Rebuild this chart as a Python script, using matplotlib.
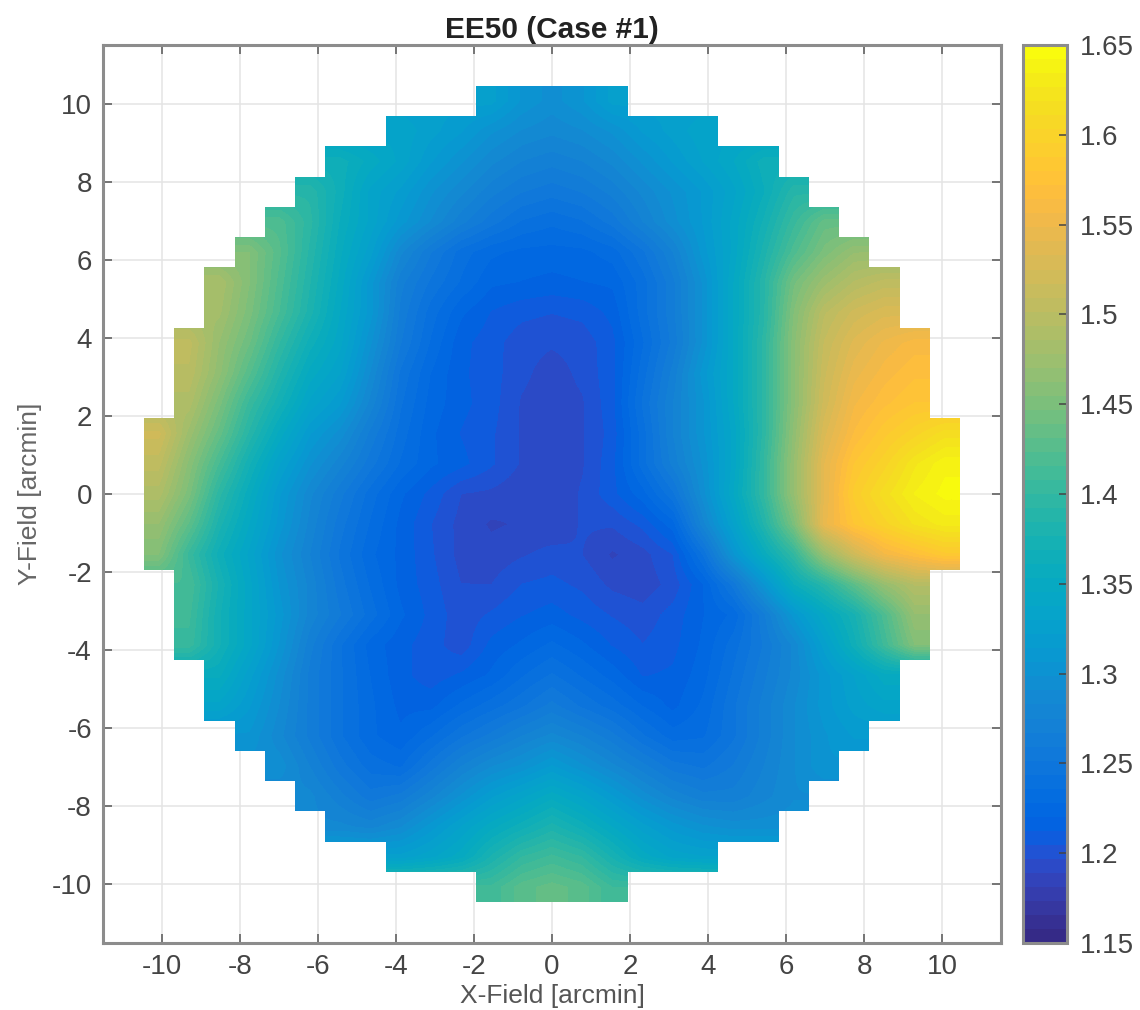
import numpy as np
import matplotlib
matplotlib.use('Agg')
import matplotlib.pyplot as plt
from matplotlib.colors import ListedColormap
from matplotlib.patches import Polygon

plt.rcParams['font.family'] = ['Liberation Sans', 'DejaVu Sans']
plt.rcParams['axes.unicode_minus'] = False

# MATLAB parula (R2014b, 64 levels)
parula = [
    (.2081, .1663, .5292), (.2116, .1898, .5777), (.2123, .2138, .6270), (.2081, .2386, .6771),
    (.1959, .2645, .7279), (.1707, .2919, .7792), (.1253, .3242, .8303), (.0591, .3598, .8683),
    (.0117, .3875, .8820), (.0060, .4086, .8828), (.0165, .4266, .8786), (.0329, .4430, .8720),
    (.0498, .4586, .8641), (.0629, .4737, .8554), (.0723, .4887, .8467), (.0779, .5040, .8384),
    (.0793, .5200, .8312), (.0749, .5375, .8263), (.0641, .5570, .8240), (.0488, .5772, .8228),
    (.0343, .5966, .8199), (.0265, .6137, .8135), (.0239, .6287, .8038), (.0231, .6418, .7913),
    (.0228, .6535, .7768), (.0267, .6642, .7607), (.0384, .6743, .7436), (.0590, .6838, .7254),
    (.0843, .6928, .7062), (.1133, .7015, .6859), (.1453, .7098, .6646), (.1801, .7177, .6424),
    (.2178, .7250, .6193), (.2586, .7317, .5954), (.3022, .7376, .5712), (.3482, .7424, .5473),
    (.3953, .7459, .5244), (.4420, .7481, .5033), (.4871, .7491, .4840), (.5300, .7491, .4661),
    (.5709, .7485, .4494), (.6099, .7473, .4337), (.6473, .7456, .4188), (.6834, .7435, .4044),
    (.7184, .7411, .3905), (.7525, .7384, .3768), (.7858, .7356, .3633), (.8185, .7327, .3498),
    (.8507, .7299, .3360), (.8824, .7274, .3217), (.9139, .7258, .3063), (.9450, .7261, .2886),
    (.9739, .7314, .2666), (.9938, .7455, .2403), (.9990, .7653, .2164), (.9955, .7861, .1967),
    (.9880, .8066, .1794), (.9789, .8271, .1633), (.9697, .8481, .1475), (.9626, .8705, .1309),
    (.9589, .8949, .1132), (.9598, .9218, .0948), (.9661, .9514, .0755), (.9763, .9831, .0538),
]

field_step = 0.774  # arcmin per sample

# EE50 x 1000, one row per y sample from top to bottom, only the samples inside the field
ee50_rows = [
    [1325, 1305, 1295, 1305, 1325],
    [1335, 1325, 1315, 1300, 1290, 1285, 1290, 1300, 1315, 1325, 1335],
    [1365, 1350, 1335, 1315, 1300, 1285, 1275, 1270, 1275, 1285, 1300, 1315, 1330, 1345, 1365],
    [1390, 1365, 1335, 1320, 1300, 1285, 1270, 1260, 1255, 1260, 1270, 1285, 1300, 1315, 1335, 1360, 1390],
    [1420, 1395, 1360, 1335, 1310, 1290, 1270, 1255, 1243, 1238, 1243, 1255, 1275, 1295, 1315, 1340, 1370, 1405, 1435],
    [1455, 1425, 1390, 1355, 1325, 1285, 1260, 1240, 1230, 1226, 1225, 1226, 1232, 1250, 1275, 1310, 1340, 1380, 1420, 1450, 1470],
    [1485, 1455, 1420, 1385, 1350, 1310, 1270, 1250, 1235, 1222, 1220, 1218, 1220, 1222, 1240, 1265, 1300, 1345, 1390, 1445, 1475, 1495, 1505],
    [1480, 1450, 1415, 1380, 1345, 1310, 1265, 1240, 1222, 1212, 1207, 1205, 1207, 1215, 1240, 1265, 1300, 1345, 1390, 1455, 1500, 1520, 1530],
    [1505, 1470, 1440, 1400, 1365, 1340, 1300, 1260, 1235, 1215, 1208, 1200, 1198, 1200, 1210, 1235, 1262, 1300, 1345, 1395, 1460, 1510, 1535, 1550, 1560],
    [1500, 1465, 1425, 1385, 1350, 1330, 1290, 1250, 1228, 1214, 1208, 1199, 1193, 1199, 1210, 1240, 1270, 1310, 1345, 1395, 1460, 1515, 1545, 1560, 1570],
    [1490, 1450, 1405, 1370, 1335, 1315, 1280, 1245, 1225, 1215, 1208, 1196, 1192, 1196, 1210, 1245, 1275, 1305, 1345, 1395, 1460, 1520, 1555, 1570, 1580],
    [1520, 1475, 1435, 1390, 1350, 1315, 1295, 1265, 1240, 1222, 1212, 1206, 1196, 1192, 1196, 1208, 1240, 1275, 1305, 1340, 1395, 1465, 1530, 1565, 1585, 1600, 1615],
    [1505, 1460, 1415, 1370, 1330, 1300, 1278, 1255, 1235, 1222, 1215, 1206, 1196, 1192, 1196, 1210, 1240, 1270, 1300, 1340, 1400, 1470, 1540, 1580, 1600, 1625, 1640],
    [1490, 1450, 1395, 1355, 1315, 1285, 1262, 1240, 1222, 1210, 1197, 1195, 1191, 1190, 1198, 1210, 1225, 1250, 1295, 1345, 1400, 1470, 1540, 1590, 1615, 1635, 1645],
    [1470, 1430, 1380, 1345, 1310, 1280, 1255, 1235, 1218, 1205, 1194, 1188, 1190, 1190, 1198, 1198, 1207, 1225, 1280, 1330, 1385, 1450, 1545, 1580, 1600, 1620, 1630],
    [1455, 1405, 1365, 1335, 1300, 1275, 1250, 1230, 1218, 1206, 1194, 1192, 1196, 1200, 1197, 1188, 1194, 1205, 1245, 1305, 1355, 1400, 1470, 1520, 1555, 1570, 1585],
    [1415, 1375, 1340, 1305, 1280, 1255, 1235, 1218, 1208, 1197, 1197, 1205, 1207, 1203, 1195, 1192, 1200, 1220, 1255, 1305, 1360, 1390, 1430, 1470, 1495],
    [1410, 1370, 1340, 1310, 1280, 1260, 1240, 1222, 1210, 1200, 1206, 1212, 1216, 1210, 1204, 1200, 1208, 1220, 1230, 1265, 1310, 1345, 1375, 1420, 1470],
    [1405, 1370, 1340, 1305, 1270, 1245, 1225, 1215, 1208, 1200, 1215, 1222, 1230, 1222, 1212, 1205, 1210, 1222, 1240, 1260, 1285, 1325, 1365, 1410, 1455],
    [1355, 1325, 1295, 1265, 1245, 1228, 1215, 1208, 1214, 1222, 1235, 1245, 1235, 1225, 1212, 1214, 1225, 1245, 1265, 1285, 1310, 1330, 1350],
    [1335, 1315, 1290, 1265, 1245, 1230, 1218, 1218, 1230, 1240, 1250, 1262, 1250, 1240, 1228, 1218, 1230, 1250, 1270, 1290, 1310, 1325, 1335],
    [1305, 1285, 1265, 1245, 1230, 1222, 1235, 1250, 1262, 1275, 1285, 1275, 1262, 1245, 1232, 1235, 1250, 1270, 1290, 1305, 1315],
    [1295, 1275, 1255, 1240, 1235, 1255, 1275, 1290, 1300, 1315, 1300, 1285, 1270, 1255, 1250, 1260, 1275, 1290, 1305],
    [1285, 1270, 1255, 1262, 1280, 1300, 1320, 1335, 1350, 1335, 1315, 1295, 1280, 1270, 1270, 1280, 1290],
    [1285, 1280, 1290, 1310, 1330, 1350, 1365, 1380, 1365, 1345, 1325, 1310, 1300, 1295, 1295],
    [1325, 1335, 1350, 1378, 1400, 1410, 1400, 1375, 1350, 1335, 1330],
    [1410, 1428, 1435, 1428, 1408],
]

x_ticks = [-10, -8, -6, -4, -2, 0, 2, 4, 6, 8, 10]
y_ticks = [-10, -8, -6, -4, -2, 0, 2, 4, 6, 8, 10]
cbar_ticks = [1.15, 1.2, 1.25, 1.3, 1.35, 1.4, 1.45, 1.5, 1.55, 1.6, 1.65]

n = len(ee50_rows)
half = n // 2
half_widths = [len(r) // 2 for r in ee50_rows]

# fill the corners with the row's edge value so the smoothing does not eat the border
grid = np.array([np.pad(r, half - w, mode='edge') for r, w in zip(ee50_rows, half_widths)]) / 1000.0
edge = (half + 0.5) * field_step

W, H = 1140, 1010
fig = plt.figure(figsize=(W / 100, H / 100), dpi=100)
ax = fig.add_axes([103 / W, 1 - 943 / H, 898 / W, 898 / H])
cax = fig.add_axes([1023 / W, 1 - 943 / H, 44 / W, 898 / H])

gray = '#8c8c8c'
text_col = '#444444'

im = ax.imshow(grid, extent=[-edge, edge, -edge, edge], origin='upper', cmap=ListedColormap(parula),
               vmin=1.15, vmax=1.65, interpolation='bilinear', interpolation_stage='data', zorder=2)

# stair-step outline of the field
right = []
for k, w in enumerate(half_widths):
    top = (half - k + 0.5) * field_step
    right += [((w + 0.5) * field_step, top), ((w + 0.5) * field_step, top - field_step)]
left = [(-x, y) for x, y in reversed(right)]
outline = Polygon(right + left, closed=True, transform=ax.transData, fc='none', ec='none')
ax.add_patch(outline)
im.set_clip_path(outline)

ax.set_xlim(-11.5, 11.5)
ax.set_ylim(-11.5, 11.5)
ax.set_xticks(x_ticks)
ax.set_yticks(y_ticks)
ax.grid(True, color='#e4e4e4', lw=1.1, zorder=1)
ax.set_axisbelow(True)
ax.tick_params(direction='in', length=6.5, width=1.1, color='#555555', labelsize=20, labelcolor=text_col,
               top=True, right=True, pad=8)
for s in ax.spines.values():
    s.set_color(gray)
    s.set_linewidth(2.2)

ax.set_title('EE50 (Case #1)', fontsize=21.5, fontweight='bold', color='#222222', pad=5)
ax.set_xlabel('X-Field [arcmin]', fontsize=19, color='#555555', labelpad=3)
ax.set_ylabel('Y-Field [arcmin]', fontsize=19, color='#666666', labelpad=7)

cbar = fig.colorbar(im, cax=cax)
cbar.set_ticks(cbar_ticks)
cbar.set_ticklabels(['%g' % t for t in cbar_ticks])
cbar.ax.tick_params(direction='in', length=6, width=1.1, color='#444444', labelsize=20, labelcolor=text_col, pad=9)
cbar.outline.set_edgecolor(gray)
cbar.outline.set_linewidth(2.2)

plt.savefig('out.png', dpi=100)
